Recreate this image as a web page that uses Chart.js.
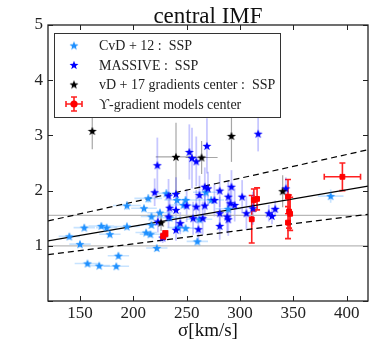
<!DOCTYPE html>
<html>
<head>
<meta charset="utf-8">
<script src="https://cdn.jsdelivr.net/npm/chart.js@4"></script>
<style>
  html, body { margin: 0; padding: 0; background: #fff; }
  #wrap { width: 374px; height: 354px; }
</style>
</head>
<body>
<div id="wrap"><canvas id="imf"></canvas></div>
<script>
// CvD+12 (light blue stars)
const cvdSigma = [140, 150, 154, 157, 168, 170, 175, 178, 184, 186, 194, 194, 210, 212, 214, 216, 217, 217, 222, 225, 231, 234, 241, 242, 247, 249, 249, 260, 262, 268, 273, 289, 385];
const cvdImf   = [1.17, 1.03, 1.33, 0.68, 0.64, 1.36, 1.33, 1.21, 0.63, 0.82, 1.35, 1.73, 1.68, 1.24, 1.86, 1.21, 1.53, 1.38, 0.96, 1.60, 1.95, 1.51, 1.83, 1.33, 1.74, 1.83, 1.32, 1.08, 1.48, 1.97, 1.83, 1.67, 1.90];
const cvdErrX  = [10, 10, 10, 12, 10, 12, 10, 10, 12, 10, 12, 13, 12, 10, 13, 10, 10, 10, 10, 12, 12, 10, 12, 10, 12, 12, 10, 10, 12, 12, 12, 12, 12];
const cvdErrY  = [0.06, 0.06, 0.06, 0.05, 0.05, 0.06, 0.06, 0.06, 0.05, 0.06, 0.07, 0.08, 0.07, 0.06, 0.08, 0.06, 0.07, 0.06, 0.06, 0.07, 0.08, 0.07, 0.08, 0.06, 0.07, 0.07, 0.06, 0.06, 0.07, 0.08, 0.07, 0.07, 0.12];

// MASSIVE (blue stars)
const massSigma = [220, 222.5, 223, 227.5, 233, 234, 233, 240, 240, 240, 244, 250, 252.5, 255, 256, 259, 259, 261, 262, 265, 267, 267, 269, 270, 276, 281, 281, 281, 288, 289, 289, 291, 292, 295, 302, 306, 312, 317, 327, 330, 333, 343];
const massImf   = [1.97, 2.46, 1.44, 1.15, 1.91, 1.69, 1.53, 1.94, 1.65, 1.29, 1.41, 1.73, 2.70, 2.59, 1.50, 2.53, 1.71, 1.30, 1.92, 1.50, 1.73, 2.07, 2.81, 2.04, 1.83, 2.00, 1.59, 1.36, 1.53, 1.48, 1.89, 1.77, 2.07, 1.74, 1.89, 1.59, 1.68, 3.03, 1.59, 1.54, 1.67, 2.04];
const massErrY  = [0.25, 0.5, 0.2, 0.1, 0.3, 0.25, 0.2, 0.3, 0.3, 0.2, 0.2, 0.3, 0.5, 0.55, 0.3, 0.45, 0.3, 0.25, 0.35, 0.3, 0.3, 0.35, 0.5, 0.3, 0.3, 0.3, 0.3, 0.25, 0.3, 0.3, 0.3, 0.3, 0.3, 0.3, 0.3, 0.3, 0.3, 0.32, 0.15, 0.15, 0.15, 0.2];

// vD+17 gradients center (black stars)
const vdSigma = [161.5, 226, 240, 264, 292, 340];
const vdImf   = [3.08, 1.42, 2.61, 2.60, 2.99, 1.99];
const vdErrX  = [0, 0, 19, 15, 0, 0];
const vdErrY  = [0.33, 0.15, 0.62, 0.3, 0.47, 0.29];

// Upsilon-gradient models center (red)
const modSigma = [228, 230, 311, 313, 316, 345, 346, 347, 345, 396];
const modImf   = [1.17, 1.22, 1.48, 1.83, 1.85, 1.89, 1.62, 1.58, 1.42, 2.25];
const modErrX  = [2, 2, 0, 0, 0, 0, 0, 0, 0, 17];
const modErrY  = [0.05, 0.05, 0.43, 0.2, 0.2, 0.31, 0.3, 0.3, 0.29, 0.25];

// fit and reference lines
const fitSigma = [120, 420];
const fitMid   = [1.09, 2.08];
const fitUpper = [1.45, 2.74];
const fitLower = [0.84, 1.57];
const refLevels = [1.0, 1.55];

const xTicks = [150, 200, 250, 300, 350, 400];
const yTicks = [0, 1, 2, 3, 4, 5];
const chartTitle = 'central IMF';

const serif = "'Liberation Serif', 'DejaVu Serif', serif";

function starImage(color, size) {
  const c = document.createElement('canvas');
  c.width = c.height = size;
  const g = c.getContext('2d');
  const cx = size / 2, cy = size / 2 + 0.4, R = size / 2 - 0.3, r = R * 0.42;
  g.beginPath();
  for (let i = 0; i < 10; i++) {
    const a = -Math.PI / 2 + i * Math.PI / 5;
    const rad = i % 2 === 0 ? R : r;
    g.lineTo(cx + rad * Math.cos(a), cy + rad * Math.sin(a));
  }
  g.closePath();
  g.fillStyle = color;
  g.fill();
  return c;
}

const starLight = starImage('#1e90ff', 10);
const starBlue = starImage('#0000ff', 10);
const starBlack = starImage('#000000', 10);

function pts(xs, ys) { return xs.map((x, i) => ({ x: x, y: ys[i] })); }

const datasets = [
  { label: 'ϒ-gradient models center', data: pts(modSigma, modImf), pointStyle: 'rect', pointRadius: 3.4,
    backgroundColor: '#ff0000', borderColor: '#ff0000', order: 0,
    errX: modErrX, errY: modErrY, errColor: '#ff2020', errWidth: 1.6, cap: 3 },
  { label: 'vD + 17 gradients center :  SSP', data: pts(vdSigma, vdImf), pointStyle: starBlack, order: 1,
    errX: vdErrX, errY: vdErrY, errColor: 'rgba(0,0,0,0.35)', errWidth: 1.2, cap: 0 },
  { label: 'MASSIVE :  SSP', data: pts(massSigma, massImf), pointStyle: starBlue, order: 2,
    errX: null, errY: massErrY, errColor: 'rgba(0,0,255,0.22)', errWidth: 1.8, cap: 0 },
  { label: 'CvD + 12 :  SSP', data: pts(cvdSigma, cvdImf), pointStyle: starLight, order: 3,
    errX: cvdErrX, errY: cvdErrY, errColor: 'rgba(30,144,255,0.25)', errWidth: 1.6, cap: 0 },
  { label: 'fit', data: pts(fitSigma, fitMid), showLine: true, pointRadius: 0, borderColor: '#000', borderWidth: 1.2, order: 5 },
  { label: 'fit+', data: pts(fitSigma, fitUpper), showLine: true, pointRadius: 0, borderColor: '#000', borderWidth: 1.2, borderDash: [6, 4], order: 5 },
  { label: 'fit-', data: pts(fitSigma, fitLower), showLine: true, pointRadius: 0, borderColor: '#000', borderWidth: 1.2, borderDash: [6, 4], order: 5 }
];
refLevels.forEach(v => {
  datasets.push({ label: 'ref', data: pts(fitSigma, [v, v]), showLine: true, pointRadius: 0, borderColor: '#b8b8b8', borderWidth: 1.2, order: 6 });
});

const errorBars = {
  id: 'errorBars',
  beforeDatasetsDraw(chart) {
    const ctx = chart.ctx, xs = chart.scales.x, ys = chart.scales.y;
    ctx.save();
    chart.data.datasets.forEach(ds => {
      if (!ds.errY) return;
      ctx.strokeStyle = ds.errColor;
      ctx.lineWidth = ds.errWidth;
      ds.data.forEach((p, i) => {
        const px = xs.getPixelForValue(p.x), py = ys.getPixelForValue(p.y);
        const ey = ds.errY[i], ex = ds.errX ? ds.errX[i] : 0;
        ctx.beginPath();
        if (ey) {
          const y0 = ys.getPixelForValue(p.y - ey), y1 = ys.getPixelForValue(p.y + ey);
          ctx.moveTo(px, y0); ctx.lineTo(px, y1);
          if (ds.cap) {
            ctx.moveTo(px - ds.cap, y0); ctx.lineTo(px + ds.cap, y0);
            ctx.moveTo(px - ds.cap, y1); ctx.lineTo(px + ds.cap, y1);
          }
        }
        if (ex) {
          const x0 = xs.getPixelForValue(p.x - ex), x1 = xs.getPixelForValue(p.x + ex);
          ctx.moveTo(x0, py); ctx.lineTo(x1, py);
          if (ds.cap) {
            ctx.moveTo(x0, py - ds.cap); ctx.lineTo(x0, py + ds.cap);
            ctx.moveTo(x1, py - ds.cap); ctx.lineTo(x1, py + ds.cap);
          }
        }
        ctx.stroke();
      });
    });
    ctx.restore();
  }
};

const frameAndLegend = {
  id: 'frameAndLegend',
  afterDraw(chart) {
    const ctx = chart.ctx, a = chart.chartArea, xs = chart.scales.x, ys = chart.scales.y;
    ctx.save();
    // title centred over the axes
    ctx.font = '23px ' + serif;
    ctx.fillStyle = '#111';
    ctx.textAlign = 'center';
    ctx.textBaseline = 'alphabetic';
    ctx.fillText(chartTitle, (a.left + a.right) / 2, a.top - 2.5);
    ctx.textAlign = 'left';

    // frame with inward ticks
    ctx.strokeStyle = '#222';
    ctx.lineWidth = 1.3;
    ctx.strokeRect(a.left, a.top, a.right - a.left, a.bottom - a.top);
    ctx.lineWidth = 1;
    ctx.beginPath();
    xTicks.forEach(v => {
      const px = Math.round(xs.getPixelForValue(v)) + 0.5;
      ctx.moveTo(px, a.bottom); ctx.lineTo(px, a.bottom - 5);
      ctx.moveTo(px, a.top); ctx.lineTo(px, a.top + 5);
    });
    yTicks.forEach(v => {
      const py = Math.round(ys.getPixelForValue(v)) + 0.5;
      ctx.moveTo(a.left, py); ctx.lineTo(a.left + 5, py);
      ctx.moveTo(a.right, py); ctx.lineTo(a.right - 5, py);
    });
    ctx.stroke();

    // legend box
    const bx = a.left + 6, by = a.top + 8, bw = 226, bh = 84;
    ctx.fillStyle = '#fff';
    ctx.fillRect(bx, by, bw, bh);
    ctx.strokeStyle = '#333';
    ctx.lineWidth = 1;
    ctx.strokeRect(bx + 0.5, by + 0.5, bw, bh);
    const rows = [3, 2, 1, 0];
    const mx = bx + 20, tx = bx + 45;
    ctx.font = '14px ' + serif;
    ctx.fillStyle = '#222';
    ctx.textBaseline = 'middle';
    rows.forEach((di, k) => {
      const ds = chart.data.datasets[di];
      const cy = by + 12.5 + k * 19.5;
      if (ds.pointStyle === 'rect') {
        ctx.strokeStyle = '#ff2020';
        ctx.lineWidth = 1.6;
        ctx.beginPath();
        ctx.moveTo(mx - 8, cy); ctx.lineTo(mx + 8, cy);
        ctx.moveTo(mx - 8, cy - 3); ctx.lineTo(mx - 8, cy + 3);
        ctx.moveTo(mx + 8, cy - 3); ctx.lineTo(mx + 8, cy + 3);
        ctx.moveTo(mx, cy - 7); ctx.lineTo(mx, cy + 7);
        ctx.moveTo(mx - 3, cy - 7); ctx.lineTo(mx + 3, cy - 7);
        ctx.moveTo(mx - 3, cy + 7); ctx.lineTo(mx + 3, cy + 7);
        ctx.stroke();
        ctx.fillStyle = '#ff0000';
        ctx.beginPath(); ctx.arc(mx, cy, 3.6, 0, Math.PI * 2); ctx.fill();
      } else {
        ctx.drawImage(ds.pointStyle, mx - 5, cy - 5);
      }
      ctx.fillStyle = '#222';
      ctx.fillText(ds.label, tx, cy + 1);
    });
    ctx.restore();
  }
};

new Chart(document.getElementById('imf'), {
  type: 'scatter',
  data: { datasets: datasets },
  options: {
    responsive: true,
    maintainAspectRatio: false,
    animation: false,
    events: [],
    layout: { padding: { left: 0, right: 6, top: 25, bottom: 0 } },
    plugins: {
      legend: { display: false },
      tooltip: { enabled: false },
      title: { display: false }
    },
    scales: {
      x: {
        type: 'linear', min: 120, max: 420,
        afterBuildTicks: s => { s.ticks = xTicks.map(v => ({ value: v })); },
        afterFit: s => { s.height = 53; },
        grid: { display: false, drawTicks: false }, border: { display: false },
        ticks: { color: '#222', padding: 2, maxRotation: 0, font: { family: serif, size: 17 } },
        title: { display: true, text: 'σ[km/s]', color: '#111', padding: { top: 0, bottom: 12 }, font: { family: serif, size: 19 } }
      },
      y: {
        type: 'linear', min: 0, max: 5,
        afterBuildTicks: s => { s.ticks = yTicks.map(v => ({ value: v })); },
        afterFit: s => { s.width = 48; },
        grid: { display: false, drawTicks: false }, border: { display: false },
        ticks: { color: '#222', padding: 5, font: { family: serif, size: 17 },
          callback: v => (v === 0 ? '' : String(v)) }
      }
    }
  },
  plugins: [errorBars, frameAndLegend]
});
</script>
</body>
</html>
